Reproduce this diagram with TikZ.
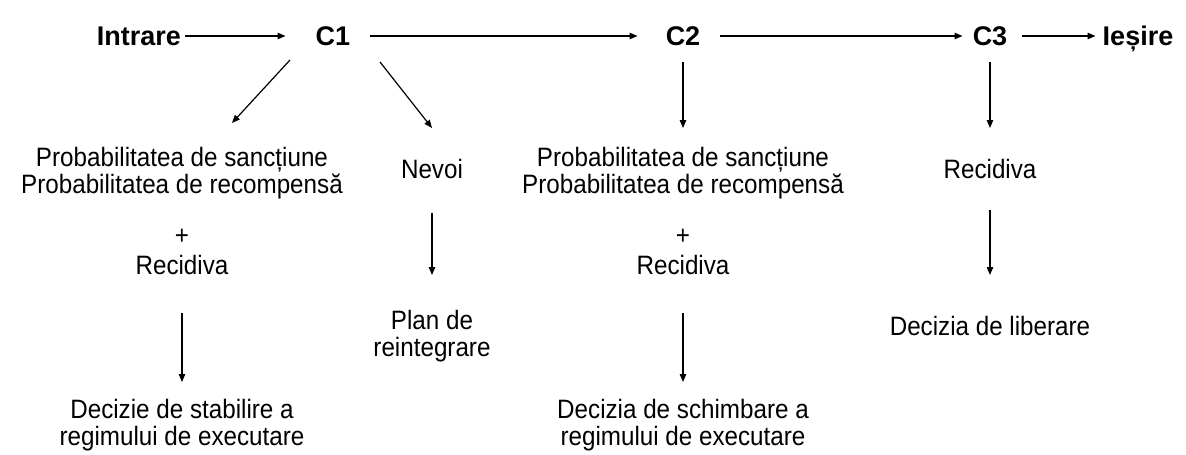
\documentclass[tikz,border=0pt]{standalone}
\usepackage{fontspec}
\setmainfont{Liberation Sans}
\newfontfamily\tallfont[FakeStretch=0.91]{Liberation Sans}
\usetikzlibrary{arrows.meta,calc}
\begin{document}
\begin{tikzpicture}[x=1pt,y=-1pt,
  big/.style={inner sep=0pt,text height=19.4pt,text depth=0pt,font=\fontsize{27}{31}\selectfont\bfseries},
  txt/.style={inner sep=0pt,align=center,font=\tallfont\fontsize{26.6}{27}\selectfont},
  arr/.style={line width=1.2pt,-{Triangle[length=8pt,width=6.5pt]}}]
\useasboundingbox (0,0) rectangle (1186,455);
% top row
\node[big] (in) at (139,36) {Intrare};
\node[big] (c1) at (333,36) {C1};
\node[big] (c2) at (683,36) {C2};
\node[big] (c3) at (990,36) {C3};
\node[big] (out) at (1138,36) {Ieșire};
% second row
\node[txt] (p1) at (182,173) {Probabilitatea de sancțiune\\Probabilitatea de recompensă};
\node[txt] (plus1) at (182,237) {+};
\node[txt] (r1) at (182,265) {Recidiva};
\node[txt] (nev) at (432,169) {Nevoi};
\node[txt] (p2) at (683,173) {Probabilitatea de sancțiune\\Probabilitatea de recompensă};
\node[txt] (plus2) at (683,237) {+};
\node[txt] (r2) at (683,265) {Recidiva};
\node[txt] (r3) at (990,169) {Recidiva};
% third row
\node[txt] (plan) at (432,336) {Plan de\\reintegrare};
\node[txt] (lib) at (990,326) {Decizia de liberare};
% bottom row
\node[txt] (d1) at (182,425) {Decizie de stabilire a\\regimului de executare};
\node[txt] (d2) at (683,425) {Decizia de schimbare a\\regimului de executare};
% connectors
\draw[arr] ([xshift=4pt]in.east) -- ([xshift=-30pt]c1.west);
\draw[arr] ([xshift=20pt]c1.east) -- ([xshift=-28pt]c2.west);
\draw[arr] ([xshift=20pt]c2.east) -- ([xshift=-10pt]c3.west);
\draw[arr] ([xshift=15pt]c3.east) -- ([xshift=-7pt]out.west);
\draw[arr] ($(c1)+(-43,24)$) -- ($(p1)+(50,-50)$);
\draw[arr] ($(c1)+(47,26)$) -- ($(nev)+(0,-41)$);
\draw[arr] ($(c2)+(0,26)$) -- ($(p2)+(0,-45)$);
\draw[arr] ($(c3)+(0,26)$) -- ($(r3)+(0,-41)$);
\draw[arr] ($(nev)+(0,44)$) -- ($(plan)+(0,-61)$);
\draw[arr] ($(r3)+(0,41)$) -- ($(lib)+(0,-51)$);
\draw[arr] ($(r1)+(0,48)$) -- ($(d1)+(0,-43)$);
\draw[arr] ($(r2)+(0,48)$) -- ($(d2)+(0,-43)$);
\end{tikzpicture}
\end{document}
